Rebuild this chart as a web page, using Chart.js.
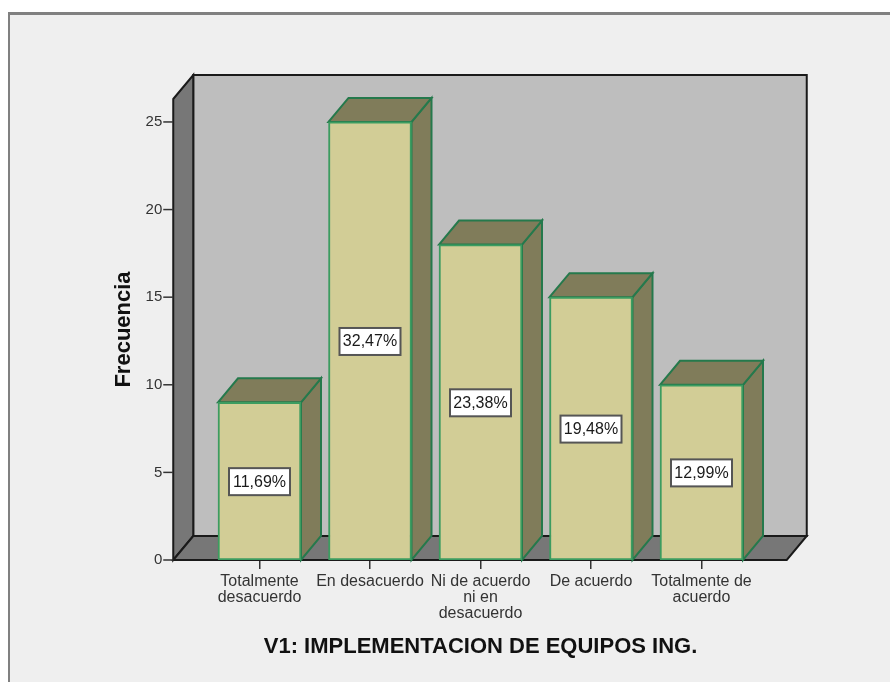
<!DOCTYPE html>
<html><head><meta charset="utf-8">
<style>html,body{margin:0;padding:0;background:#fff}canvas{display:block}</style>
<script src="https://cdn.jsdelivr.net/npm/chart.js@4"></script>
</head><body>
<div style="position:relative;width:890px;height:682px"><canvas id="c"></canvas></div>
<script>
const categories = [["Totalmente","desacuerdo"],"En desacuerdo",["Ni de acuerdo","ni en","desacuerdo"],"De acuerdo",["Totalmente de","acuerdo"]];
const frecuencia = [9,25,18,15,10];
const porcentajes = ["11,69%","32,47%","23,38%","19,48%","12,99%"];
const yTitle = "Frecuencia";
const xTitle = "V1: IMPLEMENTACION DE EQUIPOS ING.";
const FONT = '"Liberation Sans", Arial, sans-serif';
const D = {dx:20, dy:24};
const scene = {
  id:'scene',
  beforeDraw(ch){
    const c=ch.ctx; c.save();
    c.fillStyle='#fff'; c.fillRect(0,0,890,682);
    c.fillStyle='#efefef'; c.fillRect(8,13,882,669);
    c.fillStyle='#808080'; c.fillRect(8,12,882,3); c.fillRect(8,12,2,670);
    c.restore();
  },
  beforeDatasetsDraw(ch){
    const c=ch.ctx, a=ch.chartArea, y=ch.scales.y, y0=y.getPixelForValue(0), yT=a.top;
    const L=a.left-31, R=a.right+30;
    c.save();
    c.lineJoin='miter';
    c.lineWidth=2; c.strokeStyle='#1a1a1a';
    const poly=(pts,fill)=>{c.beginPath();pts.forEach((p,i)=>i?c.lineTo(p[0],p[1]):c.moveTo(p[0],p[1]));c.closePath();c.fillStyle=fill;c.fill();c.stroke();};
    poly([[L+D.dx,yT-D.dy],[R+D.dx,yT-D.dy],[R+D.dx,y0-D.dy],[L+D.dx,y0-D.dy]],'#bebebe');
    poly([[L,yT],[L+D.dx,yT-D.dy],[L+D.dx,y0-D.dy],[L,y0]],'#777777');
    poly([[L,y0],[L+D.dx,y0-D.dy],[R+D.dx,y0-D.dy],[R,y0]],'#777777');
    // y tick marks on the front edge of the side wall
    c.strokeStyle='#333'; c.lineWidth=1.5;
    y.ticks.forEach(t=>{const p=y.getPixelForValue(t.value);c.beginPath();c.moveTo(L-10,p);c.lineTo(L,p);c.stroke();});
    // 3D faces of bars
    c.strokeStyle='#25794c'; c.lineWidth=2;
    ch.getDatasetMeta(0).data.forEach(b=>{
      const l=b.x-b.width/2, r=b.x+b.width/2, t=b.y, base=b.base;
      poly([[r,t],[r+D.dx,t-D.dy],[r+D.dx,base-D.dy],[r,base]],'#807c5a');
      poly([[l,t],[l+D.dx,t-D.dy],[r+D.dx,t-D.dy],[r,t]],'#807c5a');
    });
    c.restore();
  },
  afterDatasetsDraw(ch){
    const c=ch.ctx, y=ch.scales.y;
    c.save();
    c.font='16px '+FONT; c.textAlign='center'; c.textBaseline='middle';
    ch.getDatasetMeta(0).data.forEach((b,i)=>{
      const cy=y.getPixelForValue(frecuencia[i]/2)+0.5, w=61, h=27, x=b.x-w/2, t=cy-h/2;
      c.fillStyle='#fff'; c.fillRect(x,t,w,h);
      c.strokeStyle='#555'; c.lineWidth=2; c.strokeRect(x,t,w,h);
      c.fillStyle='#1a1a1a'; c.fillText(porcentajes[i],b.x,cy+0.5);
    });
    c.restore();
  }
};
new Chart(document.getElementById('c'),{
  type:'bar',
  data:{labels:categories,datasets:[{label:yTitle,data:frecuencia,backgroundColor:'#d2cd96',borderColor:'#3c9c60',borderWidth:2,borderSkipped:false,barThickness:83}]},
  plugins:[scene],
  options:{
    responsive:true,maintainAspectRatio:false,animation:false,
    layout:{padding:{left:111,right:133.25,top:99,bottom:22}},
    plugins:{legend:{display:false},tooltip:{enabled:false}},
    scales:{
      x:{
        grid:{drawOnChartArea:false,offset:false,drawTicks:true,tickLength:9,color:'#333',lineWidth:1.5},
        border:{display:false},
        ticks:{font:{family:FONT,size:16,lineHeight:1},color:'#333',maxRotation:0,autoSkip:false,padding:5},
        title:{display:true,text:xTitle,font:{family:FONT,size:22,weight:'bold'},color:'#111',padding:{top:0,bottom:0}},
        afterFit(s){s.height=100;}
      },
      y:{
        min:0,max:26.31,
        grid:{display:false,drawTicks:false},
        border:{display:false},
        ticks:{stepSize:5,includeBounds:false,font:{family:FONT,size:15},color:'#333',padding:42},
        title:{display:true,text:yTitle,font:{family:FONT,size:22,weight:'bold'},color:'#111',padding:0},
        afterFit(s){s.width=93.25;}
      }
    }
  }
});
</script>
</body></html>
